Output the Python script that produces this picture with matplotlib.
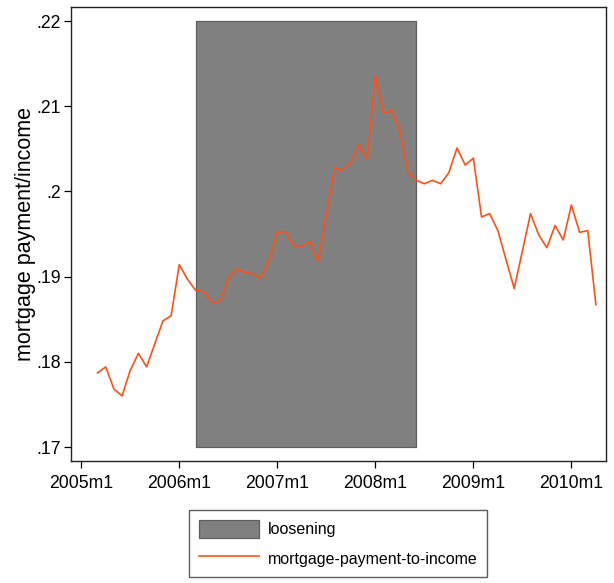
import matplotlib
matplotlib.use("Agg")
import matplotlib.pyplot as plt
from matplotlib.patches import Patch
from matplotlib.lines import Line2D
from matplotlib.ticker import FixedLocator, FuncFormatter

# Monthly mortgage-payment-to-income ratio, 2005m3 .. 2010m4
start_year, start_month = 2005, 3
ratio = [
    0.1787, 0.1794, 0.1768, 0.1760, 0.1790, 0.1810, 0.1794, 0.1821, 0.1848, 0.1854,
    0.1914, 0.1897, 0.1884, 0.1882, 0.1870, 0.1871, 0.1898, 0.1909, 0.1905, 0.1903,
    0.1898, 0.1920, 0.1952, 0.1953, 0.1936, 0.1936, 0.1941, 0.1918, 0.1973, 0.2027,
    0.2025, 0.2034, 0.2055, 0.2038, 0.2136, 0.2092, 0.2095, 0.2071, 0.2022, 0.2013,
    0.2009, 0.2013, 0.2009, 0.2022, 0.2051, 0.2031, 0.2039, 0.1970, 0.1974, 0.1954,
    0.1920, 0.1886, 0.1930, 0.1974, 0.1949, 0.1934, 0.1960, 0.1943, 0.1984, 0.1952,
    0.1954, 0.1867,
]

# Credit-loosening window
loosen_start = "2006m3"
loosen_end = "2008m6"
loosen_low, loosen_high = 0.17, 0.22

tick_labels = ["2005m1", "2006m1", "2007m1", "2008m1", "2009m1", "2010m1"]
y_ticks = [0.17, 0.18, 0.19, 0.20, 0.21, 0.22]


def month_index(label):
    y, m = label.split("m")
    return (int(y) - 2005) * 12 + int(m) - 1


def stata_decimal(v, pos=None):
    s = ("%.2f" % v).rstrip("0").rstrip(".")
    return s[1:] if s.startswith("0.") else s


first = (start_year - 2005) * 12 + start_month - 1
x = [first + i for i in range(len(ratio))]

plt.rcParams["font.family"] = ["Liberation Sans", "DejaVu Sans"]

fig = plt.figure(figsize=(6.14, 5.83), dpi=100)
ax = fig.add_axes([0.1161, 0.2093, 0.8704, 0.7782])

shade_color = "#808080"
shade_edge = "#5e5e5e"
line_color = "#ff4f14"

x0, x1 = month_index(loosen_start), month_index(loosen_end)
ax.fill_between([x0, x1], [loosen_low] * 2, [loosen_high] * 2,
                facecolor=shade_color, edgecolor=shade_edge, linewidth=0.9, zorder=1)
ax.plot(x, ratio, color=line_color, linewidth=1.2, zorder=2)

ax.set_xlim(-1.22, 64.2)
ax.set_ylim(0.16836, 0.22161)

ax.xaxis.set_major_locator(FixedLocator([month_index(t) for t in tick_labels]))
ax.set_xticklabels(tick_labels)
ax.yaxis.set_major_locator(FixedLocator(y_ticks))
ax.yaxis.set_major_formatter(FuncFormatter(stata_decimal))

ax.tick_params(axis="both", direction="out", length=5, width=0.9, colors="black",
               labelsize=12.7)
ax.tick_params(axis="y", pad=2.5)
ax.tick_params(axis="x", pad=5)
for s in ax.spines.values():
    s.set_linewidth(1.0)
    s.set_color("#222222")

ax.set_ylabel("mortgage payment/income", fontsize=15.5)
ax.yaxis.set_label_coords(-0.066, 0.5)

handles = [
    Patch(facecolor=shade_color, edgecolor=shade_edge, linewidth=0.9),
    Line2D([], [], color=line_color, linewidth=1.2),
]
leg = fig.legend(handles, ["loosening", "mortgage-payment-to-income"],
                 loc="upper center", bbox_to_anchor=(338 / 614, 1 - 510 / 583),
                 fontsize=11.5, frameon=True, fancybox=False, edgecolor="#333333",
                 handlelength=3.75, handleheight=1.375, handletextpad=0.55,
                 labelspacing=0.72, borderpad=0.6, borderaxespad=0)
leg.get_frame().set_linewidth(1.0)

fig.savefig("out.png", dpi=100, facecolor="white")
